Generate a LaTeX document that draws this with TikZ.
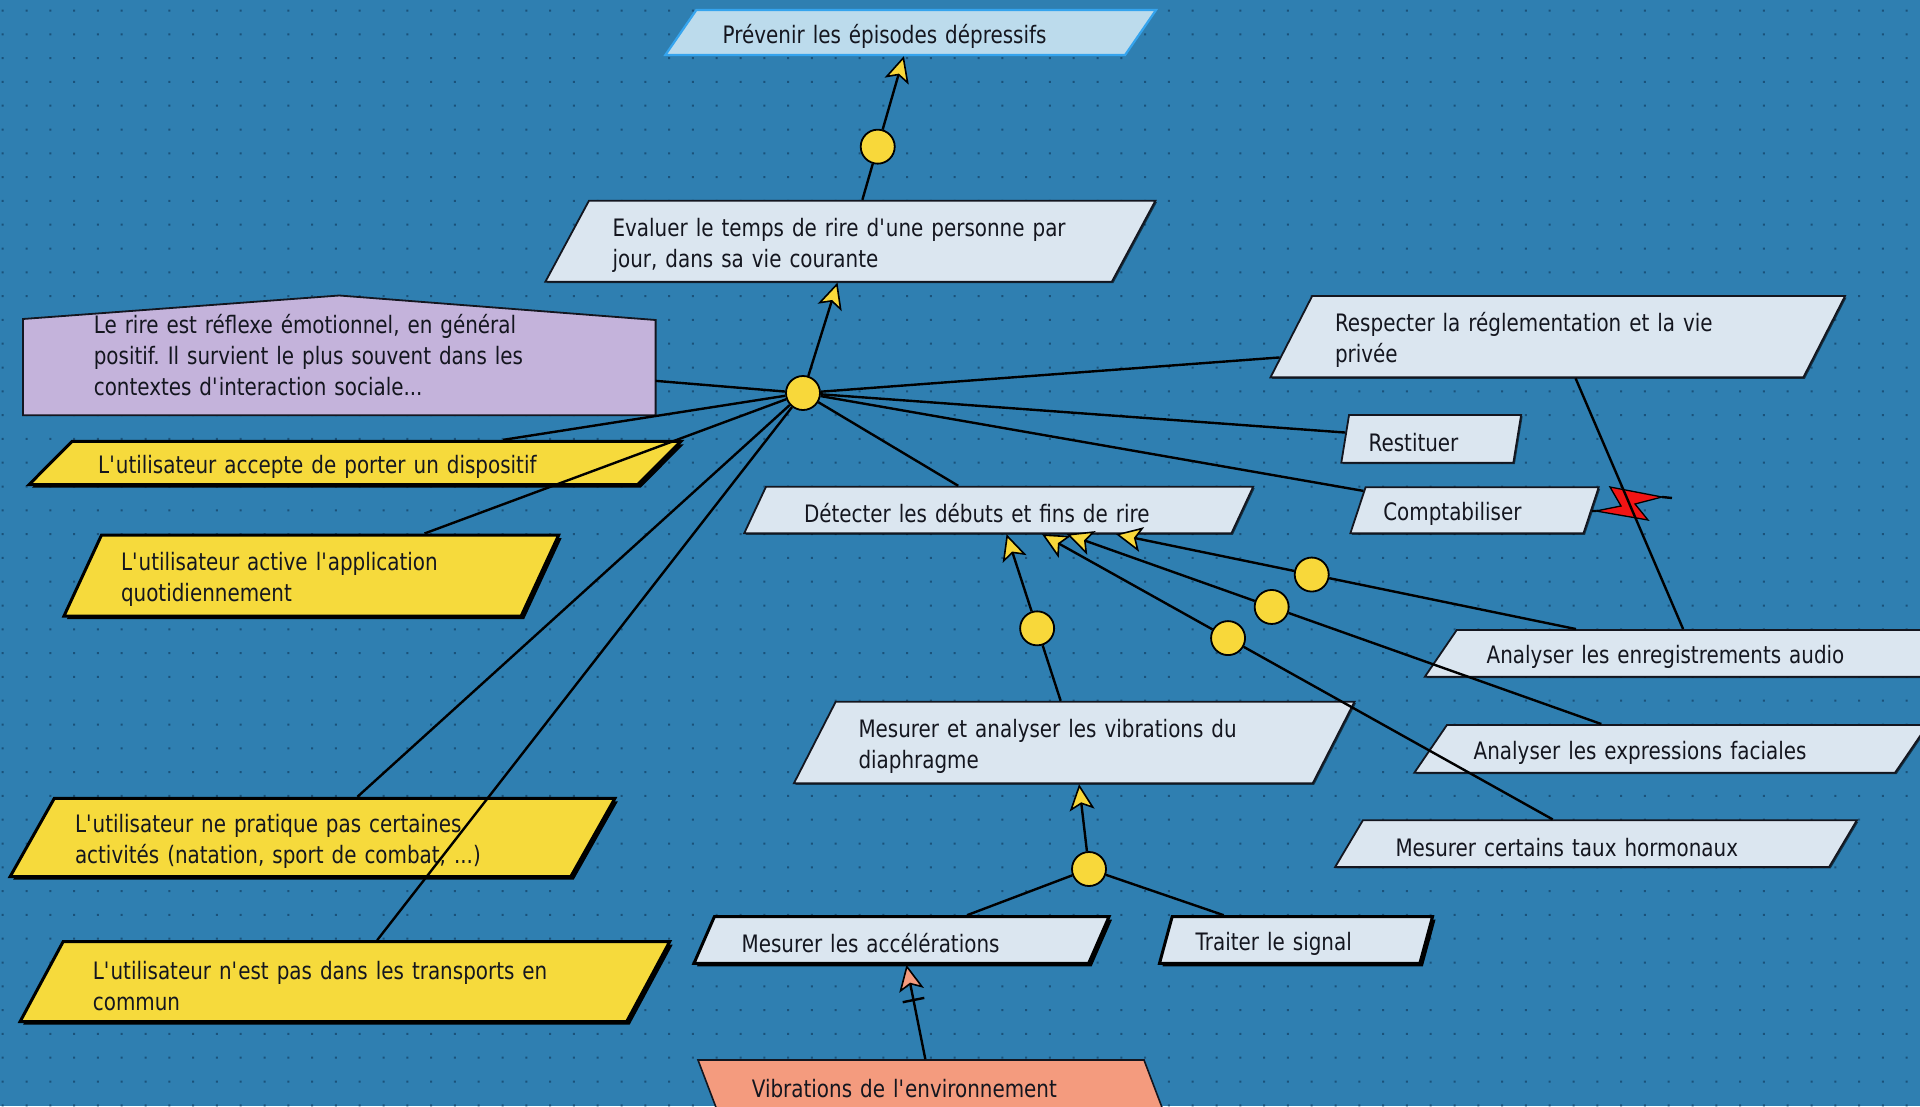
\documentclass[tikz,border=0pt]{standalone}
\usepackage{fontspec}
\setmainfont{DejaVu Sans}[FakeStretch=0.83]
\usetikzlibrary{shapes.geometric,arrows.meta,calc,shadows}

\definecolor{bgblue}{HTML}{2F7FB1}
\definecolor{dotc}{HTML}{1B527A}
\definecolor{goalfill}{HTML}{DBE6F0}
\definecolor{topfill}{HTML}{BCDBEC}
\definecolor{topedge}{HTML}{35A4EE}
\definecolor{expfill}{HTML}{F6DA3C}
\definecolor{notefill}{HTML}{C4B3DB}
\definecolor{obsfill}{HTML}{F49B7E}
\definecolor{andfill}{HTML}{F8D83A}
\definecolor{inkc}{HTML}{14161F}
\definecolor{boltred}{HTML}{F21414}

\newcommand\ap{\textquotesingle}
\frenchspacing

\pgfdeclarelayer{canvasbg}
\pgfdeclarelayer{under}
\pgfsetlayers{canvasbg,under,main}

\tikzset{
  lbl/.style={font=\fontsize{24}{31}\selectfont, text=inkc},
  % parallelogram: total width, height, left angle, right angle, text width
  pgram/.style n args={5}{shape=trapezium, trapezium left angle=#3,
    trapezium right angle=#4, trapezium stretches body,
    minimum width=#1, minimum height=#2, text width=#5, align=left,
    inner sep=0pt, lbl, execute at begin node={\rule{0pt}{26pt}}},
  goal/.style={fill=goalfill, draw=inkc, line width=1.8pt,
    drop shadow={shadow xshift=1.5pt, shadow yshift=-1.5pt, opacity=.6, fill=black}},
  topgoal/.style={fill=topfill, draw=topedge, line width=2.2pt},
  expect/.style={fill=expfill, draw=black, line width=3pt,
    drop shadow={shadow xshift=3pt, shadow yshift=-3pt, opacity=1, fill=black}},
  req/.style={fill=goalfill, draw=black, line width=3pt,
    drop shadow={shadow xshift=3pt, shadow yshift=-3pt, opacity=1, fill=black}},
  obst/.style={fill=obsfill, draw=inkc, line width=1.6pt},
  andnode/.style={circle, fill=andfill, draw=black, line width=1.8pt,
    minimum size=34pt, inner sep=0pt},
  link/.style={draw=black, line width=2.4pt},
  refine/.style={link, -{Stealth[length=26pt, width=25pt, inset=6pt, fill=andfill, line width=1.6pt]}},
  obstruct/.style={link, -{Stealth[length=26pt, width=25pt, inset=6pt, fill=obsfill, line width=1.6pt]}},
}

\begin{document}
\begin{tikzpicture}[x=1pt, y=-1pt]
\useasboundingbox (0,0) rectangle (1920,1106);

% canvas with dotted grid
\begin{pgfonlayer}{canvasbg}
  \fill[bgblue] (0,0) rectangle (1920,1106);
  \foreach \j in {0,...,46}
    \fill[dotc] \foreach \i in {0,...,80}{(1.7+23.8*\i, 9.5+23.8*\j) rectangle ++(2,2)};
\end{pgfonlayer}

% goals
\node[pgram={490.7}{45}{45}{135}{376}, topgoal] (prev) at (910.7,32.5)
  {Prévenir les épisodes dépressifs};
\node[pgram={610}{81}{54.9}{125.1}{475.6}, goal] (evalb) at (850.4,241.2)
  {Evaluer le temps de rire d\ap une personne par\\jour, dans sa vie courante};
\node[pgram={574.5}{81.3}{56.1}{123.9}{445.5}, goal] (respect) at (1557.75,336.7)
  {Respecter la réglementation et la vie\\privée};
\node[pgram={179.8}{47.7}{73.6}{106.4}{125.2}, goal] (restit) at (1431.2,438.8)
  {Restituer};
\node[pgram={248.3}{46}{63.9}{116.1}{182.4}, goal] (compta) at (1474.5,510.3)
  {Comptabiliser};
\node[pgram={509}{46.6}{50.4}{129.6}{389.4}, goal] (detect) at (998.7,510)
  {Détecter les débuts et fins de rire};
\node[pgram={560.6}{81.6}{56}{124}{431.4}, goal] (mav) at (1074.2,742.5)
  {Mesurer et analyser les vibrations du\\diaphragme};
\node[pgram={537.2}{46.7}{44.2}{135.8}{413.6}, goal] (audio) at (1693.5,653.3)
  {Analyser les enregistrements audio};
\node[pgram={513.2}{47.7}{43.6}{136.4}{394.6}, goal] (aef) at (1671,748.8)
  {Analyser les expressions faciales};
\node[pgram={521.6}{46.6}{43.6}{136.4}{401}, goal] (mth) at (1596,843.6)
  {Mesurer certains taux hormonaux};

% requirements
\node[pgram={415}{46.6}{52.3}{127.7}{319.8}, req] (ma) at (901.5,940)
  {Mesurer les accélérations};
\node[pgram={273}{46.6}{67.8}{112.2}{200.6}, req] (ts) at (1296,940)
  {Traiter le signal};

% obstacle
\node[pgram={465}{50}{125.8}{54.2}{357.4}, obst, execute at begin node={}] (ve) at (930.5,1085)
  {Vibrations de l\ap environnement};

% expectations
\node[pgram={651.8}{43.3}{35.7}{144.3}{513.4}, expect] (y1) at (354.9,463)
  {L\ap utilisateur accepte de porter un dispositif};
\node[pgram={494.7}{81}{58.8}{121.2}{380.7}, expect] (y2) at (311.35,575.5)
  {L\ap utilisateur active l\ap application\\quotidiennement};
\node[pgram={604.8}{78.4}{54.5}{125.5}{475}, expect] (y3) at (312.5,837.5)
  {L\ap utilisateur ne pratique pas certaines\\activités (natation, sport de combat, ...)};
\node[pgram={649.6}{80}{53.1}{126.9}{503.9}, expect] (y4) at (344.85,981.7)
  {L\ap utilisateur n\ap est pas dans les transports en\\commun};

% domain note
\node[lbl, text width=491, align=left, minimum width=632.2, minimum height=119.3,
  inner sep=0pt] (note) at (339.3,355.35)
  {Le rire est réflexe émotionnel, en général\\positif. Il survient le plus souvent dans les\\contextes d\ap interaction sociale...};
\begin{pgfonlayer}{under}
  \fill[black, opacity=.6, shift={(1.5,1.5)}] (note.south west) -- ($(note.north west)+(0,23.5)$)
    -- (note.north) -- ($(note.north east)+(0,24.5)$) -- (note.south east) -- cycle;
  \filldraw[fill=notefill, draw=inkc, line width=1.8pt] (note.south west)
    -- ($(note.north west)+(0,23.5)$) -- (note.north)
    -- ($(note.north east)+(0,24.5)$) -- (note.south east) -- cycle;
\end{pgfonlayer}

% refinement junctions
\node[andnode] (hub) at (803,393) {};
\node[andnode] (a0) at ($(evalb)!0.453!(prev)$) {};
\node[andnode] (a1) at ($(detect)!0.4505!(audio)$) {};
\node[andnode] (a2) at ($(detect)!0.406!(aef)$) {};
\node[andnode] (a3) at ($(detect)!0.384!(mth)$) {};
\node[andnode] (a4) at ($(detect)!0.509!(mav)$) {};
\node[andnode] (a5) at (1089,869) {};

% refinement links
\draw[refine] (hub) -- (evalb);
\draw[link] (evalb) -- (a0);
\draw[refine] (a0) -- (prev);
\foreach \n in {note,y1,y2,y3,y4,detect,restit,compta,respect}
  \draw[link] (\n) -- (hub);
\draw[link] (audio) -- (a1);
\draw[refine] (a1) -- (detect);
\draw[link] (aef) -- (a2);
\draw[refine] (a2) -- (detect);
\draw[link] (mth) -- (a3);
\draw[refine] (a3) -- (detect);
\draw[link] (mav) -- (a4);
\draw[refine] (a4) -- (detect);
\draw[link] (ma) -- (a5);
\draw[link] (ts) -- (a5);
\draw[refine] (a5) -- (mav);

% obstruction link with its bar
\draw[obstruct] (ve) -- (ma);
\path (ve.center) -- coordinate[pos=0.586] (obsbar) (ma.center);
\draw[link] ($(obsbar)!11pt!90:(ma.center)$) -- ($(obsbar)!11pt!-90:(ma.center)$);

% conflict bolt
\coordinate (boltL) at (1596,511);
\coordinate (boltT) at (1662,497);
\coordinate (boltR) at (1672,498);
\draw[link] (compta) -- (boltL);
\filldraw[fill=boltred, draw=black, line width=1.3pt, line join=miter]
  (1610,487) -- (boltT) -- (1635,504) -- (1648,520) -- (boltL) -- (1621,506) -- cycle;
\draw[link] (boltT) -- (boltR);

\draw[link] (respect) -- (audio);
\end{tikzpicture}
\end{document}
